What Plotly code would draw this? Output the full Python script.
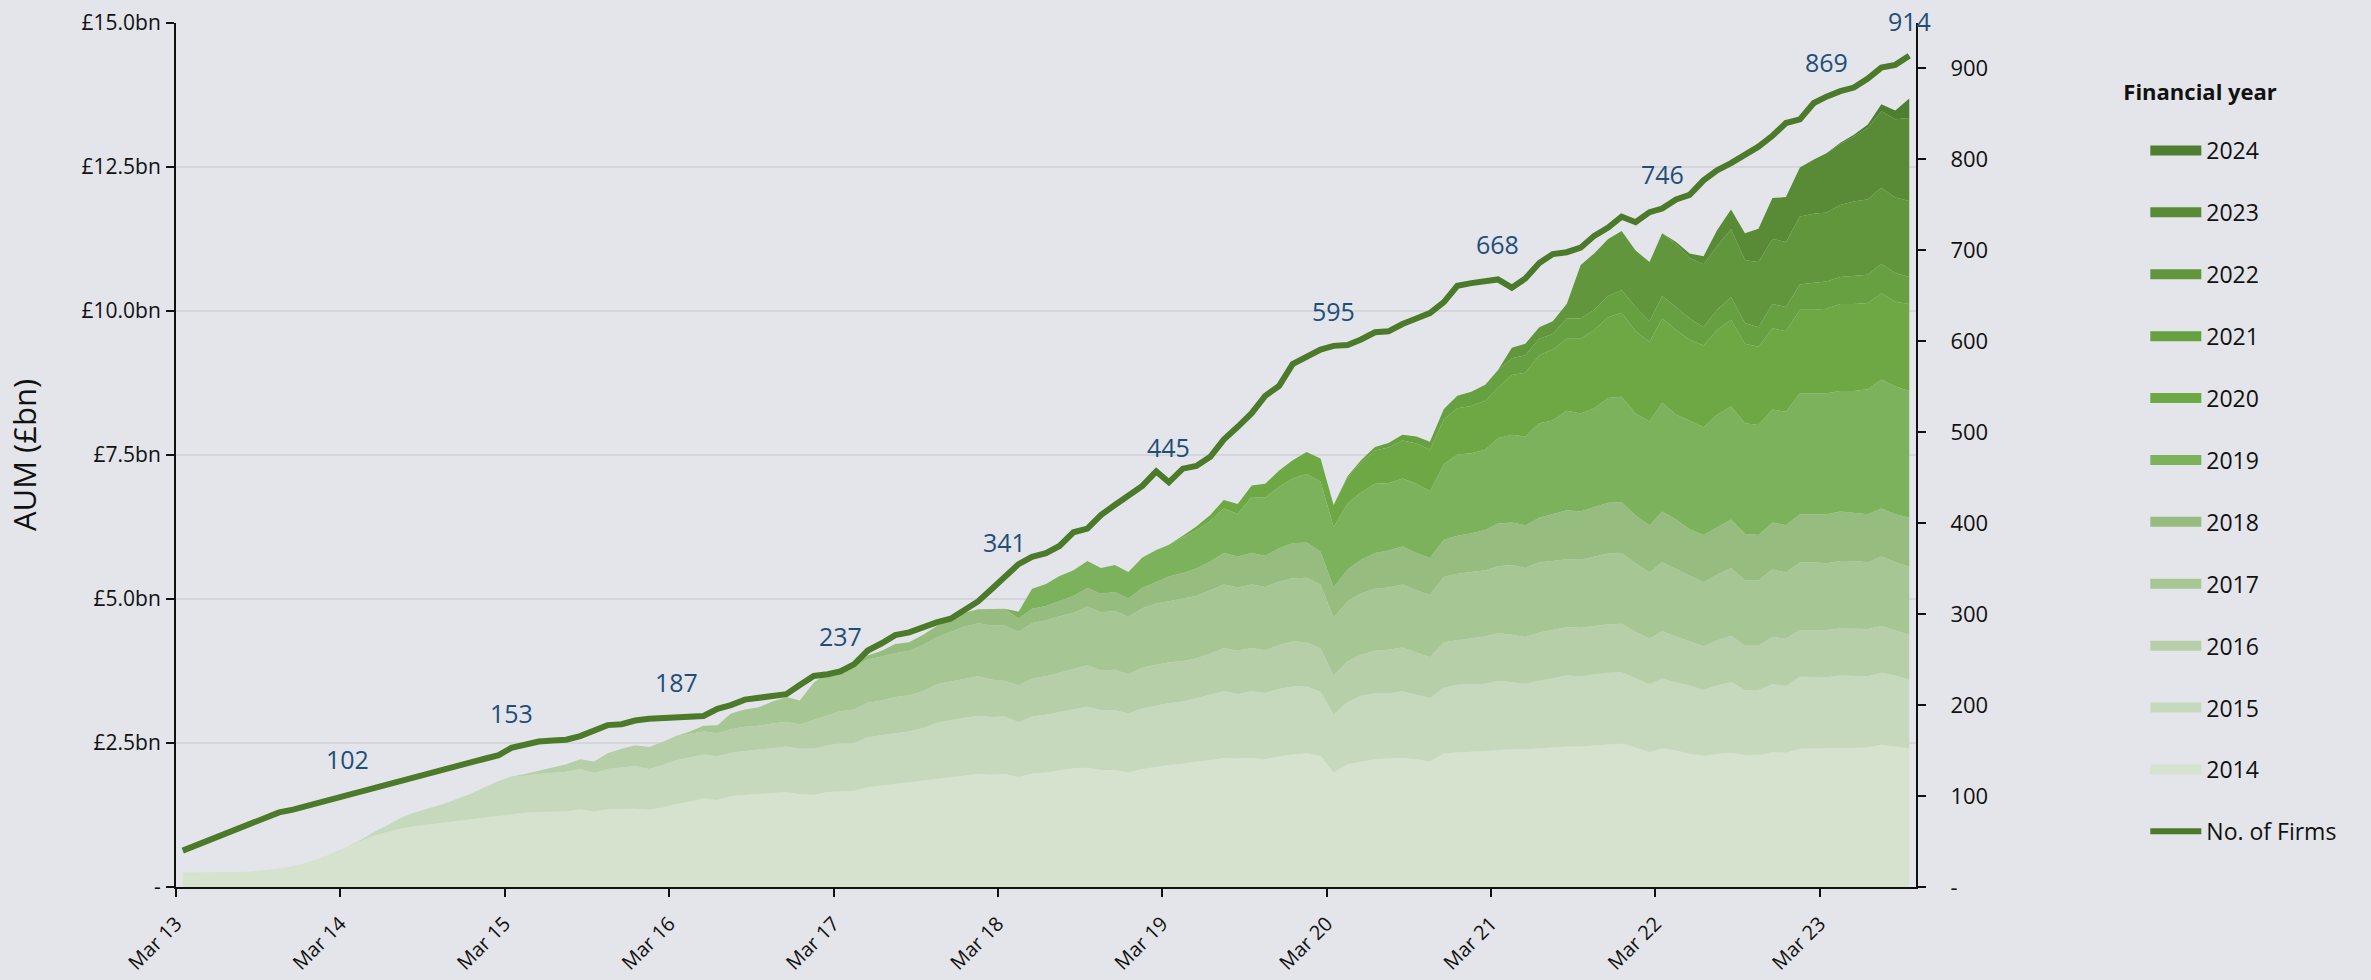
import numpy as np
import pandas as pd
import plotly.graph_objects as go

# ---------------------------------------------------------------------------
# Categories: monthly observations, Mar 2013 ... Sep 2023 (plotted mid-month)
# ---------------------------------------------------------------------------
months = pd.date_range("2013-03-01", "2023-09-01", freq="MS") + pd.Timedelta(days=15)

financial_years = ["2014", "2015", "2016", "2017", "2018", "2019",
                   "2020", "2021", "2022", "2023", "2024"]

# Upper edge of each financial-year band (cumulative AUM, £bn).
# Each list starts with the first month in which that cohort appears and runs to Sep 2023.
top_2014 = [0.25, 0.25, 0.25, 0.26, 0.26, 0.27, 0.29, 0.32, 0.36, 0.42, 0.50, 0.60, 0.70,
            0.80, 0.90, 0.96, 1.02, 1.06, 1.09, 1.12, 1.15, 1.18, 1.21, 1.24, 1.27,
            1.29, 1.30, 1.30, 1.31, 1.35, 1.31, 1.35, 1.35, 1.36, 1.34, 1.38, 1.44,
            1.48, 1.54, 1.51, 1.58, 1.60, 1.61, 1.63, 1.65, 1.61, 1.60, 1.65, 1.66,
            1.67, 1.73, 1.76, 1.79, 1.81, 1.84, 1.88, 1.91, 1.94, 1.96, 1.95, 1.96,
            1.91, 1.97, 1.99, 2.02, 2.06, 2.07, 2.03, 2.03, 1.99, 2.05, 2.09, 2.12,
            2.14, 2.18, 2.20, 2.24, 2.23, 2.24, 2.22, 2.27, 2.30, 2.32, 2.28, 1.99,
            2.13, 2.18, 2.22, 2.23, 2.24, 2.22, 2.18, 2.32, 2.34, 2.35, 2.36, 2.38,
            2.39, 2.39, 2.41, 2.42, 2.44, 2.44, 2.46, 2.48, 2.49, 2.42, 2.34, 2.41,
            2.37, 2.31, 2.28, 2.31, 2.33, 2.29, 2.29, 2.34, 2.33, 2.40, 2.41, 2.41,
            2.41, 2.42, 2.42, 2.47, 2.44, 2.41]
top_2015 = [0.82, 0.96, 1.08, 1.21, 1.30, 1.37, 1.44, 1.53, 1.62, 1.73, 1.84, 1.92,
            1.93, 1.96, 1.98, 2.00, 2.05, 1.98, 2.05, 2.08, 2.10, 2.05, 2.12, 2.20,
            2.25, 2.30, 2.27, 2.33, 2.36, 2.38, 2.41, 2.44, 2.40, 2.40, 2.46, 2.49,
            2.50, 2.60, 2.64, 2.67, 2.70, 2.76, 2.85, 2.90, 2.94, 2.97, 2.95, 2.96,
            2.86, 2.96, 2.99, 3.04, 3.08, 3.13, 3.07, 3.07, 3.01, 3.10, 3.15, 3.19,
            3.22, 3.28, 3.33, 3.40, 3.35, 3.40, 3.37, 3.44, 3.48, 3.48, 3.39, 3.00,
            3.21, 3.32, 3.36, 3.36, 3.40, 3.34, 3.28, 3.46, 3.51, 3.52, 3.53, 3.58,
            3.56, 3.53, 3.58, 3.63, 3.67, 3.66, 3.69, 3.72, 3.73, 3.62, 3.52, 3.62,
            3.55, 3.50, 3.42, 3.50, 3.56, 3.42, 3.42, 3.52, 3.49, 3.65, 3.65, 3.64,
            3.67, 3.67, 3.66, 3.72, 3.67, 3.60]
top_2016 = [1.96, 2.02, 2.08, 2.13, 2.22, 2.18, 2.32, 2.40, 2.46, 2.43, 2.52, 2.62,
            2.66, 2.70, 2.67, 2.74, 2.78, 2.80, 2.84, 2.87, 2.82, 2.90, 2.99, 3.05,
            3.08, 3.20, 3.24, 3.30, 3.33, 3.40, 3.52, 3.57, 3.62, 3.66, 3.60, 3.58,
            3.50, 3.62, 3.66, 3.72, 3.78, 3.85, 3.76, 3.77, 3.69, 3.81, 3.86, 3.90,
            3.92, 3.97, 4.05, 4.15, 4.10, 4.15, 4.11, 4.20, 4.26, 4.25, 4.14, 3.67,
            3.92, 4.03, 4.10, 4.12, 4.16, 4.08, 3.99, 4.25, 4.29, 4.32, 4.35, 4.41,
            4.38, 4.34, 4.42, 4.47, 4.51, 4.50, 4.53, 4.56, 4.57, 4.43, 4.31, 4.44,
            4.35, 4.26, 4.18, 4.28, 4.36, 4.19, 4.19, 4.34, 4.31, 4.46, 4.46, 4.46,
            4.49, 4.49, 4.48, 4.53, 4.46, 4.38]
top_2017 = [2.70, 2.80, 2.81, 3.01, 3.08, 3.12, 3.22, 3.30, 3.24, 3.55, 3.72, 3.80,
            3.82, 3.95, 4.00, 4.06, 4.10, 4.20, 4.33, 4.42, 4.52, 4.58, 4.54, 4.54,
            4.43, 4.58, 4.63, 4.70, 4.76, 4.87, 4.77, 4.79, 4.69, 4.84, 4.92, 4.96,
            5.00, 5.05, 5.15, 5.25, 5.20, 5.25, 5.21, 5.30, 5.36, 5.37, 5.25, 4.68,
            4.96, 5.10, 5.18, 5.20, 5.25, 5.15, 5.07, 5.38, 5.44, 5.47, 5.50, 5.57,
            5.59, 5.54, 5.64, 5.66, 5.69, 5.68, 5.73, 5.79, 5.80, 5.62, 5.46, 5.64,
            5.52, 5.40, 5.29, 5.42, 5.54, 5.32, 5.32, 5.51, 5.46, 5.64, 5.64, 5.62,
            5.66, 5.66, 5.64, 5.74, 5.64, 5.56]
top_2018 = [3.86, 4.02, 4.10, 4.22, 4.25, 4.38, 4.53, 4.64, 4.76, 4.82, 4.82, 4.83,
            4.66, 4.83, 4.88, 4.97, 5.05, 5.19, 5.09, 5.12, 5.01, 5.19, 5.30, 5.39,
            5.45, 5.53, 5.65, 5.80, 5.74, 5.80, 5.75, 5.88, 5.97, 5.98, 5.82, 5.21,
            5.51, 5.68, 5.80, 5.84, 5.91, 5.80, 5.71, 6.03, 6.10, 6.14, 6.20, 6.31,
            6.33, 6.28, 6.41, 6.47, 6.54, 6.52, 6.60, 6.67, 6.68, 6.45, 6.28, 6.52,
            6.38, 6.21, 6.11, 6.25, 6.38, 6.13, 6.11, 6.33, 6.28, 6.47, 6.47, 6.47,
            6.52, 6.50, 6.47, 6.57, 6.47, 6.41]
top_2019 = [4.78, 5.18, 5.26, 5.40, 5.50, 5.66, 5.54, 5.59, 5.47, 5.72, 5.85, 5.94,
            6.07, 6.20, 6.36, 6.57, 6.48, 6.77, 6.76, 6.95, 7.09, 7.17, 7.04, 6.25,
            6.66, 6.85, 7.00, 7.01, 7.09, 7.00, 6.87, 7.34, 7.51, 7.53, 7.59, 7.79,
            7.85, 7.82, 8.05, 8.10, 8.27, 8.22, 8.31, 8.49, 8.51, 8.22, 8.08, 8.41,
            8.20, 8.10, 7.98, 8.20, 8.34, 8.05, 8.02, 8.29, 8.25, 8.57, 8.57, 8.57,
            8.61, 8.61, 8.64, 8.81, 8.69, 8.61]
top_2020 = [6.10, 6.26, 6.46, 6.72, 6.65, 6.97, 7.00, 7.23, 7.41, 7.55, 7.44, 6.63,
            7.11, 7.37, 7.58, 7.63, 7.75, 7.70, 7.59, 8.12, 8.31, 8.35, 8.44, 8.67,
            8.89, 8.93, 9.23, 9.33, 9.52, 9.52, 9.67, 9.89, 9.97, 9.65, 9.46, 9.87,
            9.67, 9.50, 9.40, 9.67, 9.85, 9.43, 9.38, 9.70, 9.65, 10.02, 10.02, 10.04,
            10.12, 10.12, 10.14, 10.31, 10.16, 10.12]
top_2021 = [7.13, 7.41, 7.64, 7.71, 7.85, 7.82, 7.73, 8.30, 8.53, 8.60, 8.72, 8.97,
            9.18, 9.23, 9.52, 9.60, 9.87, 9.87, 10.02, 10.26, 10.36, 10.07, 9.82, 10.26,
            10.07, 9.87, 9.72, 10.02, 10.24, 9.79, 9.72, 10.12, 10.07, 10.46, 10.49, 10.51,
            10.59, 10.61, 10.63, 10.82, 10.66, 10.59]
top_2022 = [9.36, 9.43, 9.72, 9.82, 10.12, 10.80, 11.00, 11.25, 11.39, 11.05, 10.85, 11.35,
            11.16, 10.92, 10.81, 11.13, 11.42, 10.88, 10.85, 11.25, 11.20, 11.64, 11.69, 11.71,
            11.84, 11.90, 11.94, 12.14, 11.97, 11.91]
top_2023 = [11.20, 11.00, 10.95, 11.40, 11.76, 11.35, 11.43, 11.96, 11.98, 12.49, 12.63, 12.74,
            12.90, 13.03, 13.18, 13.47, 13.33, 13.35]
top_2024 = [12.92, 13.06, 13.24, 13.59, 13.48, 13.69]

# Number of firms (right axis)
firms = [40, 46, 52, 58, 64, 70, 76, 82, 85, 89, 93, 97, 102,
         105, 109, 113, 117, 121, 125, 129, 133, 137, 141, 145, 153,
         157, 160, 161, 162, 166, 172, 178, 179, 183, 185, 186, 187,
         188, 188, 196, 200, 206, 208, 211, 212, 222, 232, 234, 237,
         245, 260, 268, 277, 280, 286, 291, 295, 304, 314, 328, 341,
         355, 363, 367, 375, 390, 394, 409, 420, 431, 441, 457, 445,
         460, 463, 473, 492, 506, 521, 540, 551, 575, 583, 591, 595,
         596, 602, 610, 611, 619, 625, 631, 643, 661, 664, 666, 668,
         659, 669, 686, 696, 698, 703, 716, 725, 737, 731, 742, 746,
         756, 761, 777, 788, 796, 806, 814, 826, 840, 844, 862, 869,
         875, 879, 889, 901, 904, 914]

# Months whose firm count is written on the chart
label_months = ["2014-03", "2015-03", "2016-03", "2017-03", "2018-03", "2019-03",
                "2020-03", "2021-03", "2022-03", "2023-03", "2023-09"]

tick_dates = ["2013-03-01", "2014-03-01", "2015-03-01", "2016-03-01", "2017-03-01",
              "2018-03-01", "2019-03-01", "2020-03-01", "2021-03-01", "2022-03-01",
              "2023-03-01"]
tick_labels = ["Mar 13", "Mar 14", "Mar 15", "Mar 16", "Mar 17", "Mar 18",
               "Mar 19", "Mar 20", "Mar 21", "Mar 22", "Mar 23"]

aum_ticks = [0, 2.5, 5, 7.5, 10, 12.5, 15]
aum_tick_labels = ["-", "£2.5bn", "£5.0bn", "£7.5bn", "£10.0bn", "£12.5bn", "£15.0bn"]
firm_ticks = [0, 100, 200, 300, 400, 500, 600, 700, 800, 900]
firm_tick_labels = ["-", "100", "200", "300", "400", "500", "600", "700", "800", "900"]

colors = {
    "2014": "#d5e2cd", "2015": "#c6d9bc", "2016": "#b7cfa9", "2017": "#a6c794",
    "2018": "#96bd7f", "2019": "#7db25d", "2020": "#6ea844", "2021": "#66a041",
    "2022": "#61963c", "2023": "#598b37", "2024": "#4e7f31",
}
line_color = "#4c7a2b"
bg = "#e4e5ea"
label_color = "#1f4e79"
ink = "#111111"
FONT = "Open Sans, Noto Sans, DejaVu Sans, sans-serif"

# ---------------------------------------------------------------------------
tops = [top_2014, top_2015, top_2016, top_2017, top_2018, top_2019,
        top_2020, top_2021, top_2022, top_2023, top_2024]
n = len(months)

fig = go.Figure()
prev = np.zeros(n)
for k, (fy, edge) in enumerate(zip(financial_years, tops)):
    full = prev.copy()
    full[n - len(edge):] = edge
    full = np.maximum(full, prev)
    aum = full - prev                      # AUM held by this financial-year cohort
    fig.add_trace(go.Scatter(
        x=months, y=aum, name=fy, mode="lines",
        stackgroup="aum", line=dict(width=0, color=colors[fy]),
        fillcolor=colors[fy], legendgroup=fy, showlegend=False,
        hovertemplate=fy + ": £%{y:.2f}bn<extra></extra>",
    ))
    prev = full

# legend keys (block swatches) for the financial-year bands
for k, fy in enumerate(financial_years):
    fig.add_trace(go.Scatter(
        x=[None], y=[None], name=fy, mode="lines",
        line=dict(width=15, color=colors[fy]),
        legendgroup=fy, legendrank=100 - k, hoverinfo="skip",
    ))

fig.add_trace(go.Scatter(
    x=months, y=firms, name="No. of Firms", mode="lines", yaxis="y2",
    line=dict(color=line_color, width=6), legendgroup="firms", legendrank=200,
    hovertemplate="%{y} firms<extra></extra>",
))

month_keys = [d.strftime("%Y-%m") for d in months]
for m in label_months:
    i = month_keys.index(m)
    fig.add_annotation(
        x=months[i], y=firms[i], xref="x", yref="y2", text=str(firms[i]),
        showarrow=False, yshift=35, font=dict(size=25, color=label_color, family=FONT),
    )

fig.update_layout(
    width=2371, height=980,
    margin=dict(l=176, r=455, t=23, b=93, autoexpand=False),
    paper_bgcolor=bg, plot_bgcolor=bg,
    font=dict(family=FONT, color=ink),
    showlegend=True,
    legend=dict(
        x=1.118, xanchor="left", y=0.9435, yanchor="top",
        bgcolor="rgba(0,0,0,0)", traceorder="grouped", tracegroupgap=29,
        itemwidth=51, indentation=24,
        font=dict(size=23, family=FONT, color=ink),
        title=dict(text="<b>Financial year</b><br> ", font=dict(size=22, family=FONT, color=ink)),
    ),
    xaxis=dict(
        type="date", range=["2013-03-01", "2023-10-01"],
        tickvals=tick_dates, ticktext=tick_labels, tickangle=-45,
        ticks="outside", ticklen=8, tickwidth=2, tickcolor=ink,
        showline=True, linecolor=ink, linewidth=2, automargin=False,
        showgrid=False, zeroline=False, ticklabelstandoff=7,
        tickfont=dict(size=20, family=FONT, color=ink),
    ),
    yaxis=dict(
        range=[0, 15], tickvals=aum_ticks, ticktext=aum_tick_labels,
        ticks="outside", ticklen=8, tickwidth=2, tickcolor=ink,
        showline=True, linecolor=ink, linewidth=2, automargin=False,
        showgrid=True, gridcolor="#d5d6db", gridwidth=2, zeroline=False,
        tickfont=dict(size=21, family=FONT, color=ink),
        ticklabelstandoff=1,
        title=dict(text="AUM (£bn)", font=dict(size=31, family=FONT, color=ink), standoff=36),
    ),
    yaxis2=dict(
        overlaying="y", side="right", range=[0, 950],
        tickvals=firm_ticks, ticktext=firm_tick_labels,
        ticks="outside", ticklen=8, tickwidth=2, tickcolor=ink,
        showline=True, linecolor=ink, linewidth=2, automargin=False,
        showgrid=False, zeroline=False,
        tickfont=dict(size=22, family=FONT, color=ink),
        ticklabelstandoff=20,
    ),
)

# the page body must not add its default 8px margin around the figure
fig.write_html("out.html", config={"displayModeBar": False},
               post_script="document.body.style.margin='0px';")
